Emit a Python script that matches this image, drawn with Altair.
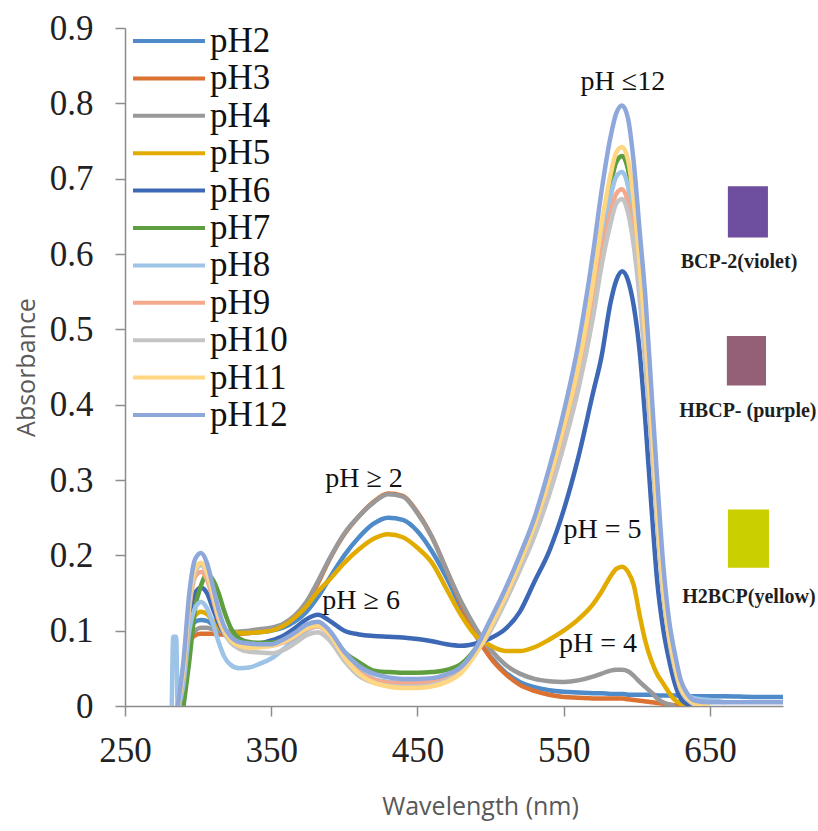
import altair as alt
import pandas as pd

# ---------------- data ----------------
wavelength = [282, 283, 285, 286, 290, 294, 298, 302, 306, 310,
              314, 318, 322, 328, 335, 342, 350, 358, 366, 374,
              382, 390, 400, 410, 420, 430, 440, 450, 460, 470,
              480, 490, 500, 510, 520, 530, 540, 550, 560, 570,
              576, 582, 586, 590, 594, 598, 602, 606, 610, 614,
              618, 622, 626, 630, 635, 640, 650, 660, 680, 700]

series_names = ["pH2", "pH3", "pH4", "pH5", "pH6", "pH7", "pH8", "pH9", "pH10", "pH11", "pH12"]

pH2 = [None, None, None, 0.0, 0.05, 0.1, 0.112, 0.114, 0.113, 0.108,
       0.103, 0.1, 0.098, 0.097, 0.097, 0.098, 0.1, 0.104, 0.112, 0.125,
       0.145, 0.17, 0.2, 0.224, 0.242, 0.25, 0.247, 0.232, 0.205, 0.17,
       0.13, 0.093, 0.065, 0.045, 0.032, 0.025, 0.021, 0.019, 0.018, 0.017,
       0.017, 0.016, 0.016, 0.016, 0.015, 0.015, 0.015, 0.015, 0.015, 0.014,
       0.014, 0.014, 0.014, 0.014, 0.013, 0.013, 0.013, 0.013, 0.012, 0.012]
pH3 = [None, None, None, 0.0, 0.04, 0.085, 0.094, 0.096, 0.096, 0.096,
       0.095, 0.095, 0.095, 0.096, 0.097, 0.099, 0.102, 0.107, 0.118, 0.136,
       0.163, 0.195, 0.228, 0.252, 0.271, 0.282, 0.279, 0.257, 0.224, 0.18,
       0.135, 0.095, 0.064, 0.043, 0.028, 0.02, 0.015, 0.012, 0.011, 0.01,
       0.01, 0.01, 0.01, 0.01, 0.009, 0.008, 0.007, 0.006, 0.005, 0.004,
       0.003, 0.002, 0.001, 0.0, None, None, None, None, None, None]
pH4 = [None, None, None, 0.0, 0.045, 0.09, 0.1, 0.104, 0.104, 0.102,
       0.1, 0.099, 0.098, 0.099, 0.1, 0.102, 0.104, 0.109, 0.12, 0.138,
       0.166, 0.196, 0.229, 0.252, 0.27, 0.281, 0.278, 0.256, 0.224, 0.18,
       0.138, 0.103, 0.075, 0.055, 0.043, 0.036, 0.033, 0.032, 0.034, 0.039,
       0.043, 0.047, 0.048, 0.048, 0.046, 0.04, 0.032, 0.025, 0.018, 0.01,
       0.005, 0.002, 0.0, None, None, None, None, None, None, None]
pH5 = [None, None, None, 0.0, 0.05, 0.105, 0.12, 0.125, 0.122, 0.113,
       0.105, 0.1, 0.098, 0.097, 0.097, 0.098, 0.1, 0.106, 0.117, 0.132,
       0.152, 0.168, 0.19, 0.208, 0.222, 0.228, 0.224, 0.21, 0.19, 0.155,
       0.12, 0.093, 0.08, 0.073, 0.073, 0.078, 0.088, 0.1, 0.115, 0.135,
       0.152, 0.172, 0.182, 0.185, 0.178, 0.16, 0.12, 0.085, 0.06, 0.042,
       0.03, 0.018, 0.008, 0.003, 0.0, None, None, None, None, None]
pH6 = [None, None, None, 0.0, 0.05, 0.12, 0.15, 0.157, 0.15, 0.13,
       0.11, 0.096, 0.088, 0.083, 0.082, 0.083, 0.087, 0.093, 0.103, 0.115,
       0.121, 0.113, 0.1, 0.095, 0.093, 0.092, 0.091, 0.089, 0.086, 0.082,
       0.08, 0.083, 0.09, 0.102, 0.125, 0.165, 0.205, 0.26, 0.33, 0.415,
       0.465, 0.535, 0.565, 0.577, 0.565, 0.53, 0.47, 0.375, 0.265, 0.165,
       0.103, 0.062, 0.03, 0.01, 0.002, 0.0, None, None, None, None]
pH7 = [None, None, None, None, 0.0, 0.06, 0.13, 0.16, 0.174, 0.168,
       0.15, 0.125, 0.105, 0.09, 0.085, 0.084, 0.084, 0.087, 0.094, 0.104,
       0.108, 0.098, 0.072, 0.058, 0.047, 0.045, 0.044, 0.044, 0.045, 0.048,
       0.056, 0.077, 0.108, 0.145, 0.19, 0.238, 0.297, 0.367, 0.447, 0.553,
       0.628, 0.69, 0.722, 0.73, 0.712, 0.66, 0.58, 0.485, 0.375, 0.258,
       0.158, 0.094, 0.053, 0.025, 0.01, 0.003, 0.0, None, None, None]
pH8 = [0.0, 0.092, 0.092, 0.0, 0.03, 0.1, 0.13, 0.138, 0.13, 0.11,
       0.085, 0.065, 0.055, 0.05, 0.051, 0.056, 0.063, 0.075, 0.088, 0.1,
       0.106, 0.096, 0.068, 0.047, 0.036, 0.032, 0.031, 0.031, 0.033, 0.04,
       0.052, 0.075, 0.108, 0.146, 0.19, 0.238, 0.296, 0.365, 0.443, 0.545,
       0.618, 0.676, 0.703, 0.709, 0.69, 0.64, 0.565, 0.475, 0.37, 0.255,
       0.16, 0.097, 0.057, 0.03, 0.015, 0.01, 0.008, 0.005, None, None]
pH9 = [None, None, None, 0.0, 0.045, 0.13, 0.172, 0.178, 0.168, 0.143,
       0.115, 0.097, 0.087, 0.08, 0.078, 0.079, 0.08, 0.084, 0.092, 0.102,
       0.106, 0.094, 0.065, 0.045, 0.035, 0.031, 0.03, 0.03, 0.032, 0.038,
       0.05, 0.073, 0.105, 0.142, 0.185, 0.232, 0.288, 0.355, 0.43, 0.53,
       0.6, 0.655, 0.68, 0.686, 0.668, 0.62, 0.55, 0.46, 0.36, 0.25,
       0.155, 0.093, 0.052, 0.024, 0.009, 0.002, 0.0, None, None, None]
pH10 = [None, None, None, 0.0, 0.05, 0.135, 0.178, 0.187, 0.175, 0.148,
        0.118, 0.097, 0.085, 0.076, 0.072, 0.071, 0.07, 0.074, 0.083, 0.094,
        0.098, 0.087, 0.06, 0.04, 0.031, 0.027, 0.026, 0.026, 0.028, 0.034,
        0.046, 0.07, 0.1, 0.138, 0.18, 0.225, 0.28, 0.345, 0.42, 0.515,
        0.585, 0.64, 0.667, 0.673, 0.655, 0.61, 0.54, 0.45, 0.35, 0.24,
        0.15, 0.09, 0.05, 0.022, 0.008, 0.002, 0.0, None, None, None]
pH11 = [None, None, None, 0.0, 0.05, 0.14, 0.182, 0.19, 0.178, 0.15,
        0.12, 0.1, 0.088, 0.08, 0.077, 0.078, 0.08, 0.085, 0.093, 0.103,
        0.107, 0.095, 0.065, 0.043, 0.031, 0.026, 0.024, 0.024, 0.026, 0.032,
        0.044, 0.07, 0.105, 0.145, 0.19, 0.24, 0.3, 0.37, 0.45, 0.56,
        0.64, 0.705, 0.735, 0.742, 0.725, 0.67, 0.585, 0.49, 0.38, 0.26,
        0.16, 0.095, 0.055, 0.025, 0.01, 0.003, 0.0, None, None, None]
pH12 = [None, None, None, 0.0, 0.06, 0.15, 0.195, 0.203, 0.19, 0.16,
        0.128, 0.105, 0.093, 0.085, 0.083, 0.082, 0.082, 0.088, 0.097, 0.108,
        0.112, 0.1, 0.072, 0.053, 0.043, 0.038, 0.036, 0.036, 0.037, 0.042,
        0.052, 0.077, 0.115, 0.155, 0.2, 0.25, 0.315, 0.39, 0.48, 0.6,
        0.685, 0.755, 0.787, 0.797, 0.78, 0.72, 0.63, 0.54, 0.42, 0.3,
        0.19, 0.115, 0.07, 0.035, 0.015, 0.007, 0.005, 0.005, 0.005, 0.005]

series_values = [pH2, pH3, pH4, pH5, pH6, pH7, pH8, pH9, pH10, pH11, pH12]

# annotations (text, wavelength, absorbance)
ann_text = ["pH \u2265 2", "pH \u2265 6", "pH = 5", "pH = 4", "pH \u226412"]
ann_wl = [413.5, 411.5, 576.5, 573.5, 590.5]
ann_abs = [0.301, 0.140, 0.233, 0.082, 0.828]

# colour swatches (label, wavelength range, absorbance range)
swatch_label = ["BCP-2(violet)", "HBCP- (purple)", "H2BCP(yellow)"]
swatch_wl1 = [662.3, 661.6, 662.3]
swatch_wl2 = [689.7, 688.4, 690.4]
swatch_abs1 = [0.690, 0.491, 0.261]
swatch_abs2 = [0.622, 0.4255, 0.1835]
swatch_label_wl = [669.9, 676.0, 676.7]
swatch_label_abs = [0.590, 0.391, 0.145]

# ---------------- styles ----------------
line_colors = ["#4F8BC9", "#DC7232", "#999999", "#E2AB00", "#3D68B5", "#5E9E3F",
               "#9DC3E6", "#F4A98C", "#C4C4C4", "#FFD682", "#8FA8DC"]
swatch_colors = ["#6E4E9E", "#946078", "#CACF00"]

axis_grey = "#8c8c8c"

color_scale = alt.Scale(domain=series_names, range=line_colors)
legend = alt.Legend(
    title=None, orient="none", legendX=-9.5, legendY=-4.5,
    labelFont="Liberation Serif", labelFontSize=35, labelColor="#111111",
    symbolType="M0,0L72,0", symbolSize=4, symbolStrokeWidth=4,
    labelOffset=59.5, rowPadding=1.4, padding=0, labelLimit=300,
)

x_enc = alt.X("wl:Q", scale=alt.Scale(domain=[250, 700], nice=False, zero=False),
              axis=alt.Axis(values=[250, 350, 450, 550, 650], title="Wavelength (nm)",
                            grid=False, labelFont="Liberation Serif", labelFontSize=35,
                            labelColor="#222222", labelFlush=False, labelOverlap=False,
                            tickSize=10, tickColor=axis_grey, tickWidth=1.5,
                            domainColor=axis_grey, domainWidth=1.5, labelPadding=17,
                            titleFont="Open Sans", titleFontSize=25, titleFontWeight="normal",
                            titleColor="#595959", titlePadding=26, titleX=355))
y_enc = alt.Y("absb:Q", scale=alt.Scale(domain=[0, 0.9], nice=False, zero=True),
              axis=alt.Axis(values=[0, 0.1, 0.2, 0.3, 0.4, 0.5, 0.6, 0.7, 0.8, 0.9],
                            format=".1~f", title="Absorbance", grid=False,
                            labelFont="Liberation Serif", labelFontSize=35,
                            labelColor="#222222", labelOverlap=False,
                            tickSize=10, tickColor=axis_grey, tickWidth=1.5,
                            domainColor=axis_grey, domainWidth=1.5, labelPadding=22,
                            titleFont="Open Sans", titleFontSize=25, titleFontWeight="normal",
                            titleColor="#595959", titlePadding=10))

layers = []
for name, vals in zip(series_names, series_values):
    rows = [{"wl": w, "absb": v, "series": name} for w, v in zip(wavelength, vals) if v is not None]
    df = pd.DataFrame(rows)
    layers.append(
        alt.Chart(df).mark_line(strokeWidth=4.5, interpolate="monotone", clip=True).encode(
            x=x_enc, y=y_enc,
            color=alt.Color("series:N", scale=color_scale, legend=legend),
            order=alt.Order("wl:Q"),
        )
    )

sw_df = pd.DataFrame({
    "label": swatch_label, "wl1": swatch_wl1, "wl2": swatch_wl2,
    "a1": swatch_abs1, "a2": swatch_abs2, "fillc": swatch_colors,
    "lwl": swatch_label_wl, "labs": swatch_label_abs,
})
swatches = alt.Chart(sw_df).mark_rect().encode(
    x="wl1:Q", x2="wl2:Q", y="a1:Q", y2="a2:Q",
    fill=alt.Fill("fillc:N", scale=None),
)
swatch_text = alt.Chart(sw_df).mark_text(
    font="Liberation Serif", fontSize=20, fontWeight="bold", color="#1e1e1e",
    align="center", baseline="middle",
).encode(x="lwl:Q", y="labs:Q", text="label:N")

ann_df = pd.DataFrame({"t": ann_text, "wl": ann_wl, "a": ann_abs})
annotations = alt.Chart(ann_df).mark_text(
    font="Liberation Serif", fontSize=28, color="#111111",
    align="center", baseline="middle",
).encode(x="wl:Q", y="a:Q", text="t:N")

chart = alt.layer(*layers, swatches, swatch_text, annotations).properties(
    width=658, height=678,
    padding={"left": 125, "top": 28, "right": 35, "bottom": 125},
    autosize=alt.AutoSizeParams(type="none"),
).configure_view(stroke=None)

chart.save("out.html", embed_options={"renderer": "svg", "actions": False})
